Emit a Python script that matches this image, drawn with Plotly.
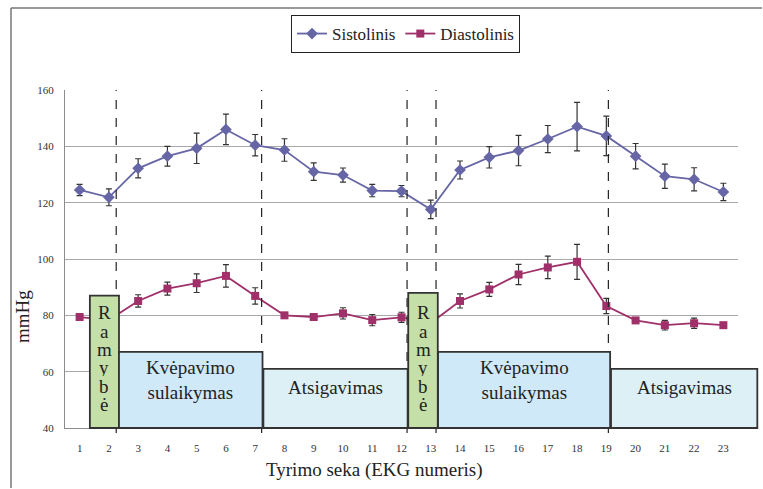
import plotly.graph_objects as go

# EKG measurement sequence numbers
ekg = list(range(1, 24))

# Systolic pressure (mean and error)
sistolinis = [124.5, 121.9, 132.2, 136.5, 139.3, 146.0, 140.4, 138.7, 131.0, 129.8,
              124.3, 124.1, 117.6, 131.6, 136.1, 138.5, 142.6, 147.0, 143.7, 136.5,
              129.4, 128.3, 123.8]
sistolinis_err = [2.0, 3.0, 3.4, 3.5, 5.4, 5.4, 3.8, 4.0, 3.1, 2.5,
                  2.2, 2.0, 3.3, 3.2, 3.8, 5.4, 4.8, 8.6, 7.0, 4.5,
                  4.3, 4.1, 3.1]

# Diastolic pressure (mean and error)
diastolinis = [79.4, 78.3, 85.1, 89.5, 91.4, 94.0, 86.9, 80.0, 79.4, 80.7,
               78.3, 79.3, 77.3, 85.1, 89.2, 94.5, 97.0, 99.0, 83.3, 78.2,
               76.5, 77.2, 76.5]
diastolinis_err = [0.8, 1.0, 2.2, 2.3, 3.3, 4.0, 2.9, 1.0, 0.8, 2.0,
                   2.0, 1.8, 1.0, 2.5, 2.5, 3.6, 4.0, 6.2, 2.7, 1.0,
                   1.7, 1.8, 0.6]

# Experiment phases: (label, start, end, top in mmHg, kind)
phases = [
    ("Ramybė", 1.35, 2.345, 87, "rest"),
    ("Kvėpavimo<br>sulaikymas", 2.345, 7.25, 67, "hold"),
    ("Atsigavimas", 7.28, 12.21, 61, "recover"),
    ("Ramybė", 12.23, 13.24, 88, "rest"),
    ("Kvėpavimo<br>sulaikymas", 13.25, 19.13, 67, "hold"),
    ("Atsigavimas", 19.16, 24.16, 61, "recover"),
]
# Phase boundaries marked by dashed lines
boundaries = [2.25, 7.22, 12.19, 13.18, 19.07]

X_RANGE = (0.5, 23.5)
Y_RANGE = (40, 160)
W, H = 763, 489
M = dict(l=65, r=25, t=90, b=61)
PW = W - M["l"] - M["r"]
PH = H - M["t"] - M["b"]


def px(v):
    return (v - X_RANGE[0]) / (X_RANGE[1] - X_RANGE[0])


def py(v):
    return (v - Y_RANGE[0]) / (Y_RANGE[1] - Y_RANGE[0])


def pix_x(p):
    return (p - M["l"]) / PW


def pix_y(p):
    return (H - M["b"] - p) / PH


SERIF = "Liberation Serif"
SYS_COLOR = "#6666a6"
DIA_COLOR = "#a0306a"
FILLS = {"rest": "#c4dfa8", "hold": "#cfe9f9", "recover": "#dcf0f5"}

fig = go.Figure()
fig.add_trace(go.Scatter(
    x=ekg, y=sistolinis, name="Sistolinis", mode="lines+markers",
    line=dict(color=SYS_COLOR, width=1.8),
    marker=dict(symbol="diamond", size=9, color=SYS_COLOR),
    error_y=dict(type="data", array=sistolinis_err, color="#333333", thickness=1.2, width=3),
))
fig.add_trace(go.Scatter(
    x=ekg, y=diastolinis, name="Diastolinis", mode="lines+markers",
    line=dict(color=DIA_COLOR, width=1.8),
    marker=dict(symbol="square", size=8, color=DIA_COLOR),
    error_y=dict(type="data", array=diastolinis_err, color="#333333", thickness=1.2, width=3),
))

shapes = []
# outer frame (top and left edges)
shapes.append(dict(type="line", xref="paper", yref="paper",
                   x0=pix_x(11), x1=pix_x(W - 1), y0=pix_y(8), y1=pix_y(8),
                   line=dict(color="#777777", width=1.5)))
shapes.append(dict(type="line", xref="paper", yref="paper",
                   x0=pix_x(11), x1=pix_x(11), y0=pix_y(8), y1=pix_y(H - 1),
                   line=dict(color="#777777", width=1.5)))

for b in boundaries:
    shapes.append(dict(type="line", xref="paper", yref="paper", layer="above",
                       x0=px(b), x1=px(b), y0=py(38.2), y1=py(160),
                       line=dict(color="#222222", width=1.2, dash="dash")))

annotations = []
for label, x0, x1, top, kind in phases:
    shapes.append(dict(type="rect", xref="paper", yref="paper", layer="above",
                       x0=px(x0), x1=px(x1), y0=py(40), y1=py(top),
                       fillcolor=FILLS[kind], line=dict(color="#333333", width=1.8)))
    xc = px((x0 + x1) / 2)
    if kind == "rest":
        letters = list(label)
        mid = 64.6
        step = 6.5
        n = len(letters)
        for i, ch in enumerate(letters):
            yv = mid + ((n - 1) / 2 - i) * step
            annotations.append(dict(xref="paper", yref="paper", x=xc, y=py(yv),
                                    xanchor="center", yanchor="middle",
                                    height=17, valign="middle",
                                    text=ch, showarrow=False,
                                    font=dict(family=SERIF, size=19, color="#222222")))
    else:
        yv = 57.0 if kind == "hold" else 54.5
        annotations.append(dict(xref="paper", yref="paper", x=xc, y=py(yv),
                                xanchor="center", yanchor="middle",
                                text=label, showarrow=False,
                                font=dict(family=SERIF, size=19, color="#222222")))

# axis titles
annotations.append(dict(xref="paper", yref="paper", x=pix_x(22), y=pix_y(317),
                        xanchor="center", yanchor="middle",
                        text="mmHg", textangle=-90, showarrow=False,
                        font=dict(family=SERIF, size=19, color="#222222")))
annotations.append(dict(xref="paper", yref="paper", x=pix_x(374), y=pix_y(470),
                        xanchor="center", yanchor="middle",
                        text="Tyrimo seka (EKG numeris)", showarrow=False,
                        font=dict(family=SERIF, size=19, color="#222222")))

fig.update_layout(
    width=W, height=H, margin=M,
    paper_bgcolor="white", plot_bgcolor="white",
    font=dict(family=SERIF, color="#333333"),
    shapes=shapes, annotations=annotations,
    showlegend=True,
    legend=dict(orientation="h", x=pix_x(291), y=pix_y(15), xanchor="left", yanchor="top",
                bordercolor="#222222", borderwidth=1, bgcolor="white",
                font=dict(family=SERIF, size=17, color="#222222"),
                itemwidth=30, tracegroupgap=0),
    xaxis=dict(range=list(X_RANGE), tickmode="array", tickvals=ekg,
               ticktext=[str(v) for v in ekg], showgrid=False, zeroline=False,
               showline=True, linecolor="#8c8c8c", linewidth=1,
               ticks="outside", ticklen=10, tickcolor="rgba(0,0,0,0)",
               tickfont=dict(family=SERIF, size=11, color="#333333")),
    yaxis=dict(range=list(Y_RANGE), dtick=20, tick0=40, showgrid=True,
               gridcolor="#a8a8a8", gridwidth=1, zeroline=False,
               showline=True, linecolor="#8c8c8c", linewidth=1,
               ticks="outside", ticklen=8, tickcolor="rgba(0,0,0,0)",
               tickfont=dict(family=SERIF, size=11, color="#333333")),
)

fig.write_html("out.html")
